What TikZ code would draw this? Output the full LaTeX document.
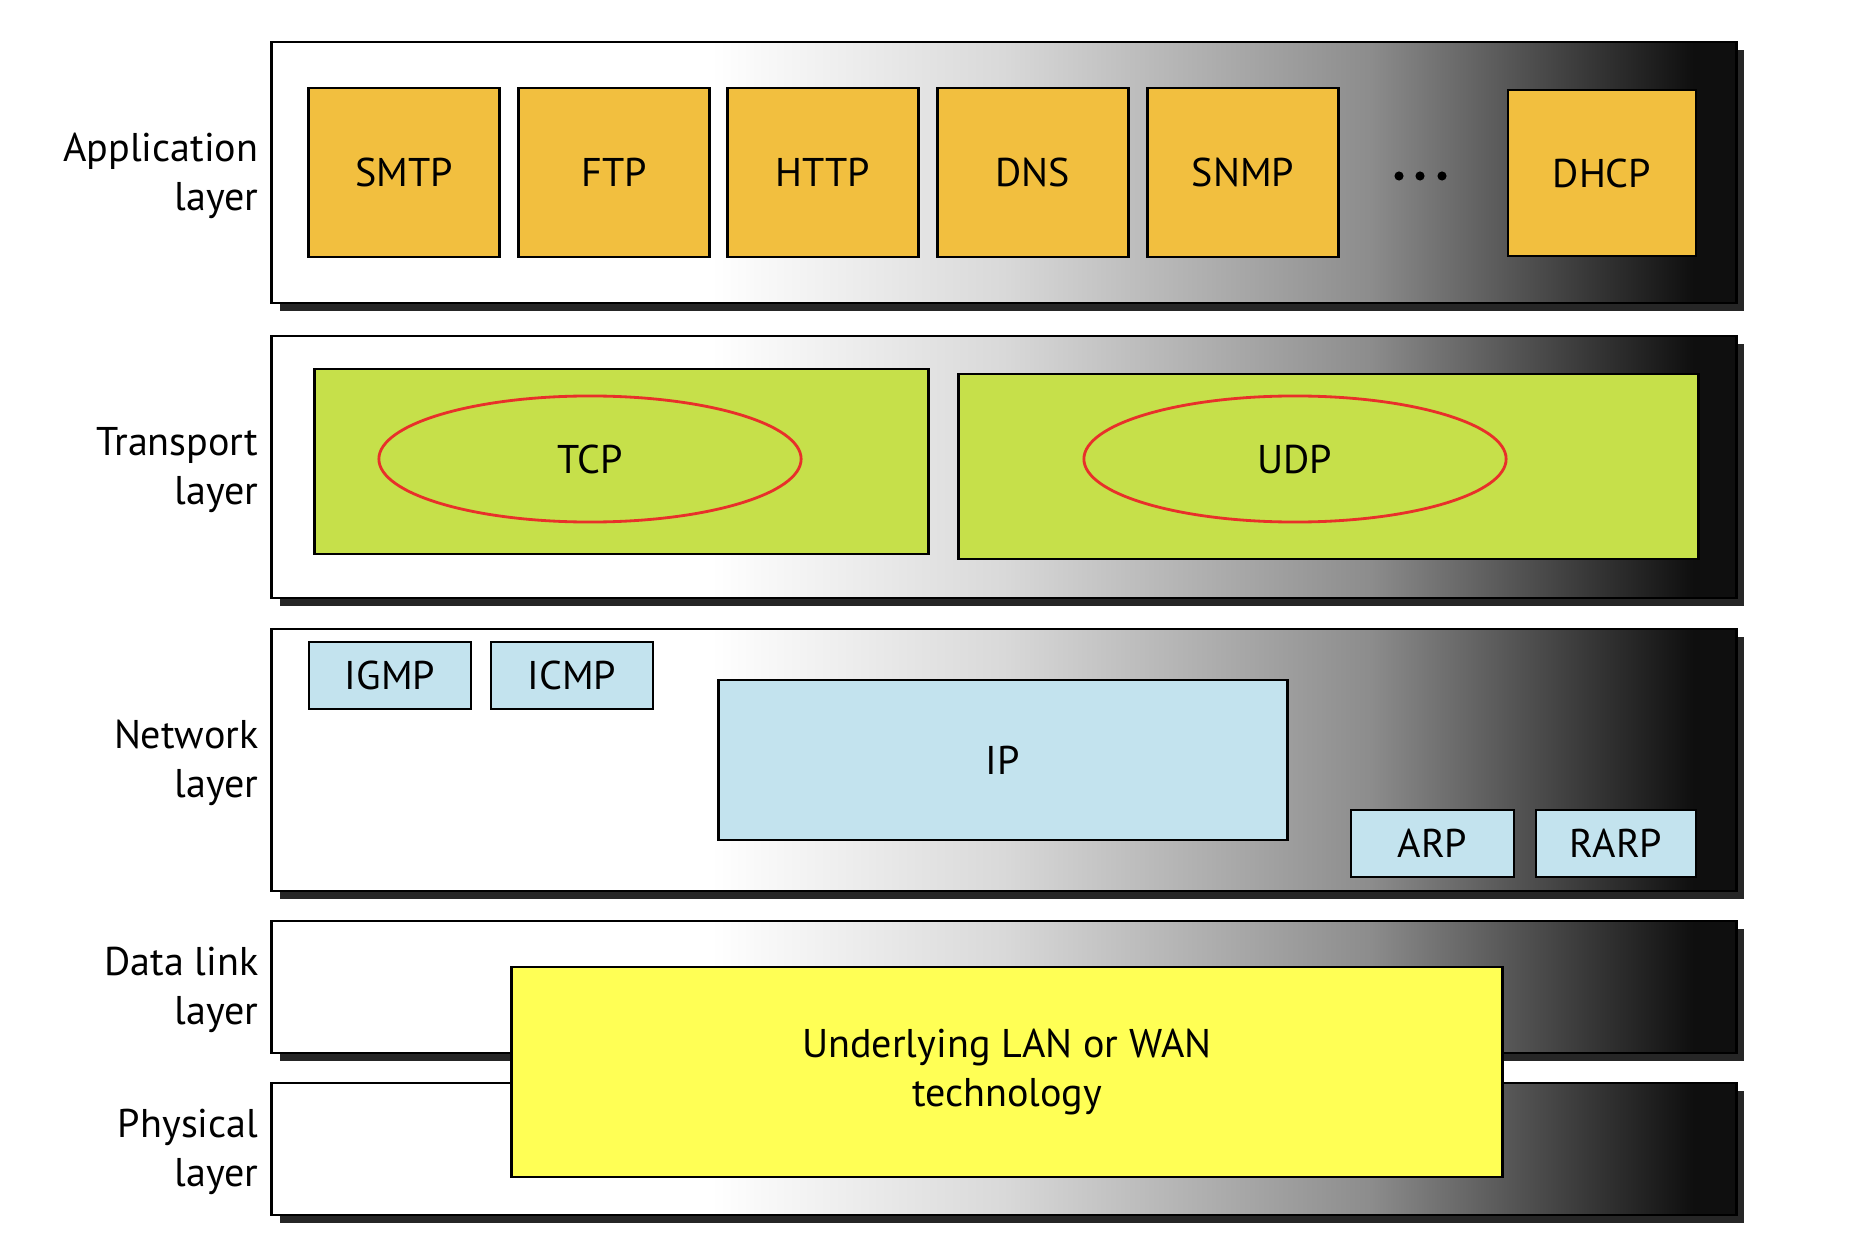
\documentclass[tikz,border=0pt]{standalone}
\usepackage{fontspec}
\setmainfont{PT Sans}
\usetikzlibrary{positioning,shapes.geometric,shadows}

\definecolor{appc}{RGB}{242,191,63}
\definecolor{trc}{RGB}{198,224,74}
\definecolor{netc}{RGB}{195,227,238}
\definecolor{linkc}{RGB}{255,255,85}
\definecolor{ringc}{RGB}{232,48,42}
\pgfdeclarehorizontalshading{layershade}{100bp}{color(0bp)=(white); color(25bp)=(white); color(40bp)=(white); color(50bp)=(black!15); color(62.5bp)=(black!45); color(73.5bp)=(black!94); color(100bp)=(black!94)}

\begin{document}
\begin{tikzpicture}[x=0.01cm, y=-0.01cm,
  every node/.style={font=\fontsize{11.4}{13.8}\selectfont, inner sep=0pt},
  layer/.style={draw, line width=0.8pt, shading=layershade, minimum width=14.64cm,
    drop shadow={shadow xshift=0.08cm, shadow yshift=-0.08cm, fill=black!85, opacity=1}},
  lab/.style={align=right, anchor=east},
  app/.style={draw, line width=0.8pt, fill=appc, minimum width=1.91cm, minimum height=1.69cm},
  proto/.style={draw, line width=0.8pt, fill=trc, minimum height=1.85cm},
  ring/.style={ellipse, draw=ringc, line width=0.8pt, minimum width=4.22cm, minimum height=1.26cm},
  net/.style={draw, line width=0.8pt, fill=netc}]
		\useasboundingbox (0,0) rectangle (1852,1252);
		% layers
		\node[layer, minimum height=2.61cm] (AppL) at (1004,172.5) {};
		\node[layer, minimum height=2.62cm] (TrL) at (1004,467) {};
		\node[layer, minimum height=2.62cm] (NetL) at (1004,760) {};
		\node[layer, minimum height=1.32cm] (LinkL) at (1004,987) {};
		\node[layer, minimum height=1.32cm] (PhyL) at (1004,1149) {};
		\node[lab] (AppT) at (259,176) {Application\\layer};
		\node[lab] (TrT) at (259,470) {Transport\\layer};
		\node[lab] (NetT) at (259,763) {Network\\layer};
		\node[lab] (LinkT) at (259,990) {Data link\\layer};
		\node[lab] (PhyT) at (259,1152) {Physical\\layer};
		% application
		\node[app] (SMTP) at (404,172.5) {SMTP};
		\node[app] (FTP) at (614,172.5) {FTP};
		\node[app] (HTTP) at (823,172.5) {HTTP};
		\node[app] (DNS) at (1033,172.5) {DNS};
		\node[app] (SNMP) at (1243,172.5) {SNMP};
		\node[app, minimum width=1.88cm, minimum height=1.66cm] (DHCP) at (1602,173) {DHCP};
		\foreach \x in {1399,1420,1442}
			\fill (\x,176) circle[radius=1.3pt];
		% transport
		\node[proto, minimum width=6.13cm] (TCPbox) at (621.5,461.5) {};
		\node[proto, minimum width=7.39cm] (UDPbox) at (1328.5,466.5) {};
		\node[ring] (TCP) at (590,459) {TCP};
		\node[ring] (UDP) at (1295,459) {UDP};
		% network
		\node[net, minimum width=1.62cm, minimum height=0.67cm] (IGMP) at (390,675.5) {IGMP};
		\node[net, minimum width=1.62cm, minimum height=0.67cm] (ICMP) at (572,675.5) {ICMP};
		\node[net, minimum width=5.68cm, minimum height=1.6cm] (IP) at (1003,760) {IP};
		\node[net, minimum width=1.63cm, minimum height=0.67cm] (ARP) at (1432.5,843.5) {ARP};
		\node[net, minimum width=1.6cm, minimum height=0.67cm] (RARP) at (1616,843.5) {RARP};
		% data link + physical
		\node[draw, line width=0.8pt, fill=linkc, minimum width=9.9cm, minimum height=2.1cm, align=center] (LAN) at (1007,1072) {Underlying LAN or WAN\\technology};
	\end{tikzpicture}
\end{document}
